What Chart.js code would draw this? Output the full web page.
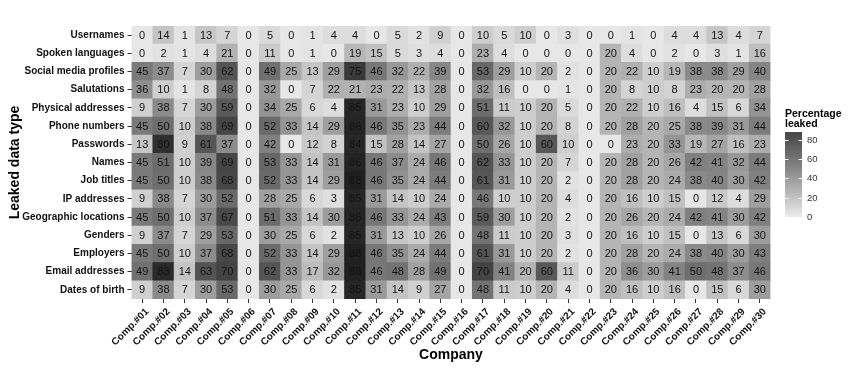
<!DOCTYPE html>
<html><head><meta charset="utf-8">
<script src="https://cdn.jsdelivr.net/npm/chart.js"></script>
<style>html,body{margin:0;padding:0;background:#fff}#wrap{width:850px;height:368px}</style>
</head><body><div id="wrap"><canvas id="c" width="850" height="368"></canvas></div>
<script>
const companies = ['Comp.#01','Comp.#02','Comp.#03','Comp.#04','Comp.#05','Comp.#06','Comp.#07','Comp.#08','Comp.#09','Comp.#10',
  'Comp.#11','Comp.#12','Comp.#13','Comp.#14','Comp.#15','Comp.#16','Comp.#17','Comp.#18','Comp.#19','Comp.#20',
  'Comp.#21','Comp.#22','Comp.#23','Comp.#24','Comp.#25','Comp.#26','Comp.#27','Comp.#28','Comp.#29','Comp.#30'];
const dataTypes = ['Usernames','Spoken languages','Social media profiles','Salutations','Physical addresses','Phone numbers',
  'Passwords','Names','Job titles','IP addresses','Geographic locations','Genders','Employers','Email addresses','Dates of birth'];

const usernames       = [0,14,1,13,7,0,5,0,1,4, 4,0,5,2,9,0,10,5,10,0, 3,0,0,1,0,4,4,13,4,7];
const spokenLanguages = [0,2,1,4,21,0,11,0,1,0, 19,15,5,3,4,0,23,4,0,0, 0,0,20,4,0,2,0,3,1,16];
const socialMedia     = [45,37,7,30,62,0,49,25,13,29, 75,46,32,22,39,0,53,29,10,20, 2,0,20,22,10,19,38,38,29,40];
const salutations     = [36,10,1,8,48,0,32,0,7,22, 21,23,22,13,28,0,32,16,0,0, 1,0,20,8,10,8,23,20,20,28];
const physicalAddr    = [9,38,7,30,59,0,34,25,6,4, 85,31,23,10,29,0,51,11,10,20, 5,0,20,22,10,16,4,15,6,34];
const phoneNumbers    = [45,50,10,38,69,0,52,33,14,29, 86,46,35,23,44,0,60,32,10,20, 8,0,20,28,20,25,38,39,31,44];
const passwords       = [13,80,9,61,37,0,42,0,12,8, 84,15,28,14,27,0,50,26,10,60, 10,0,0,23,20,33,19,27,16,23];
const names           = [45,51,10,39,69,0,53,33,14,31, 86,46,37,24,46,0,62,33,10,20, 7,0,20,28,20,26,42,41,32,44];
const jobTitles       = [45,50,10,38,68,0,52,33,14,29, 88,46,35,24,44,0,61,31,10,20, 2,0,20,28,20,24,38,40,30,42];
const ipAddresses     = [9,38,7,30,52,0,28,25,6,3, 85,31,14,10,24,0,46,10,10,20, 4,0,20,16,10,15,0,12,4,29];
const geoLocations    = [45,50,10,37,67,0,51,33,14,30, 86,46,33,24,43,0,59,30,10,20, 2,0,20,26,20,24,42,41,30,42];
const genders         = [9,37,7,29,53,0,30,25,6,2, 85,31,13,10,26,0,48,11,10,20, 3,0,20,16,10,15,0,13,6,30];
const employers       = [45,50,10,37,68,0,52,33,14,29, 88,46,35,24,44,0,61,31,10,20, 2,0,20,28,20,24,38,40,30,43];
const emailAddresses  = [49,83,14,63,70,0,62,33,17,32, 88,46,48,28,49,0,70,41,20,60, 11,0,20,36,30,41,50,48,37,46];
const datesOfBirth    = [9,38,7,30,53,0,30,25,6,2, 85,31,14,9,27,0,48,11,10,20, 4,0,20,16,10,16,0,15,6,30];

const legendTicks = [0,20,40,60,80];
const fillMin = 0, fillMax = 88;

const values = [usernames,spokenLanguages,socialMedia,salutations,physicalAddr,phoneNumbers,passwords,names,
  jobTitles,ipAddresses,geoLocations,genders,employers,emailAddresses,datesOfBirth];

// Lab-lightness interpolation between two greys (like ggplot2 gradient)
function srgbToLin(c){c/=255;return c<=0.04045?c/12.92:Math.pow((c+0.055)/1.055,2.4);}
function linToSrgb(v){const c=v<=0.0031308?12.92*v:1.055*Math.pow(v,1/2.4)-0.055;return Math.round(Math.max(0,Math.min(1,c))*255);}
function Lof(g){const y=srgbToLin(g);return y>0.008856?116*Math.cbrt(y)-16:903.3*y;}
function grayFromL(L){const y=L>8?Math.pow((L+16)/116,3):L/903.3;return linToSrgb(y);}
const Llow=Lof(231), Lhigh=Lof(32);
function fillColor(v){const t=Math.max(0,Math.min(1,(v-fillMin)/(fillMax-fillMin)));const g=grayFromL(Llow+(Lhigh-Llow)*t);return 'rgb('+g+','+g+','+g+')';}

const FONT = '"Liberation Sans", Arial, sans-serif';
const nRows = dataTypes.length;

const datasets = values.slice().reverse().map((row,k)=>({
  label: dataTypes[nRows-1-k],
  data: row.map(()=>1),
  cellValues: row,
  backgroundColor: row.map(fillColor),
  borderWidth: 0,
  categoryPercentage: 1,
  barPercentage: 1
}));

const cellLabels = {
  id:'cellLabels',
  afterDatasetsDraw(chart){
    const ctx=chart.ctx; ctx.save();
    ctx.font='11px '+FONT; ctx.fillStyle='#141414'; ctx.textAlign='center'; ctx.textBaseline='middle';
    chart.data.datasets.forEach((ds,i)=>{
      chart.getDatasetMeta(i).data.forEach((el,j)=>{
        const p=el.getCenterPoint();
        ctx.fillText(String(ds.cellValues[j]),p.x,p.y+0.5);
      });
    });
    ctx.restore();
  }
};

const colorLegend = {
  id:'colorLegend',
  afterDraw(chart){
    const ctx=chart.ctx; ctx.save();
    const x0=785, w=17, top=132, bottom=217;
    ctx.fillStyle='#000'; ctx.font='bold 10.5px '+FONT; ctx.textAlign='left'; ctx.textBaseline='alphabetic';
    ctx.fillText('Percentage',x0,116.5);
    ctx.fillText('leaked',x0,127);
    const yOf=v=>bottom-(v-fillMin)/(fillMax-fillMin)*(bottom-top);
    for(let y=top;y<bottom;y+=0.5){
      const v=fillMin+(bottom-(y+0.25))/(bottom-top)*(fillMax-fillMin);
      ctx.fillStyle=fillColor(v); ctx.fillRect(x0,y,w,0.6);
    }
    ctx.strokeStyle='#fff'; ctx.lineWidth=1;
    ctx.font='9.5px '+FONT; ctx.fillStyle='#333'; ctx.textBaseline='middle';
    legendTicks.forEach(t=>{
      const y=Math.round(yOf(t))+0.5;
      ctx.beginPath(); ctx.moveTo(x0,y); ctx.lineTo(x0+3.5,y); ctx.moveTo(x0+w-3.5,y); ctx.lineTo(x0+w,y); ctx.stroke();
      ctx.fillText(String(t),x0+w+5,y);
    });
    ctx.restore();
  }
};

new Chart(document.getElementById('c'),{
  type:'bar',
  data:{labels:companies,datasets},
  options:{
    responsive:false, animation:false, devicePixelRatio:1,
    layout:{padding:{top:26,right:79.5,bottom:0,left:0}},
    plugins:{legend:{display:false},tooltip:{enabled:false}},
    scales:{
      x:{
        type:'category', stacked:true, offset:true,
        grid:{offset:false,drawOnChartArea:false,drawTicks:true,tickLength:4,color:'#333'},
        border:{display:false},
        ticks:{autoSkip:false,maxRotation:45,minRotation:45,color:'#111',padding:3,labelOffset:5,font:{family:FONT,size:10,weight:'bold'}},
        title:{display:true,text:'Company',color:'#000',font:{family:FONT,size:14,weight:'bold'},padding:{top:4,bottom:4.6}},
        afterFit(axis){axis.height=69;}
      },
      y:{
        type:'linear', stacked:true, min:0, max:nRows,
        afterBuildTicks(axis){axis.ticks=dataTypes.map((_,k)=>({value:k+0.5}));},
        grid:{drawOnChartArea:false,drawTicks:true,tickLength:4,color:'#333'},
        border:{display:false},
        ticks:{autoSkip:false,color:'#111',padding:3,font:{family:FONT,size:10,weight:'bold'},
          callback:(v,i)=>dataTypes[nRows-1-i]},
        title:{display:true,text:'Leaked data type',color:'#000',font:{family:FONT,size:14,weight:'bold'},padding:{top:6.5,bottom:4}},
        afterFit(axis){axis.width=131.5;}
      }
    }
  },
  plugins:[cellLabels,colorLegend]
});
</script>
</body></html>
